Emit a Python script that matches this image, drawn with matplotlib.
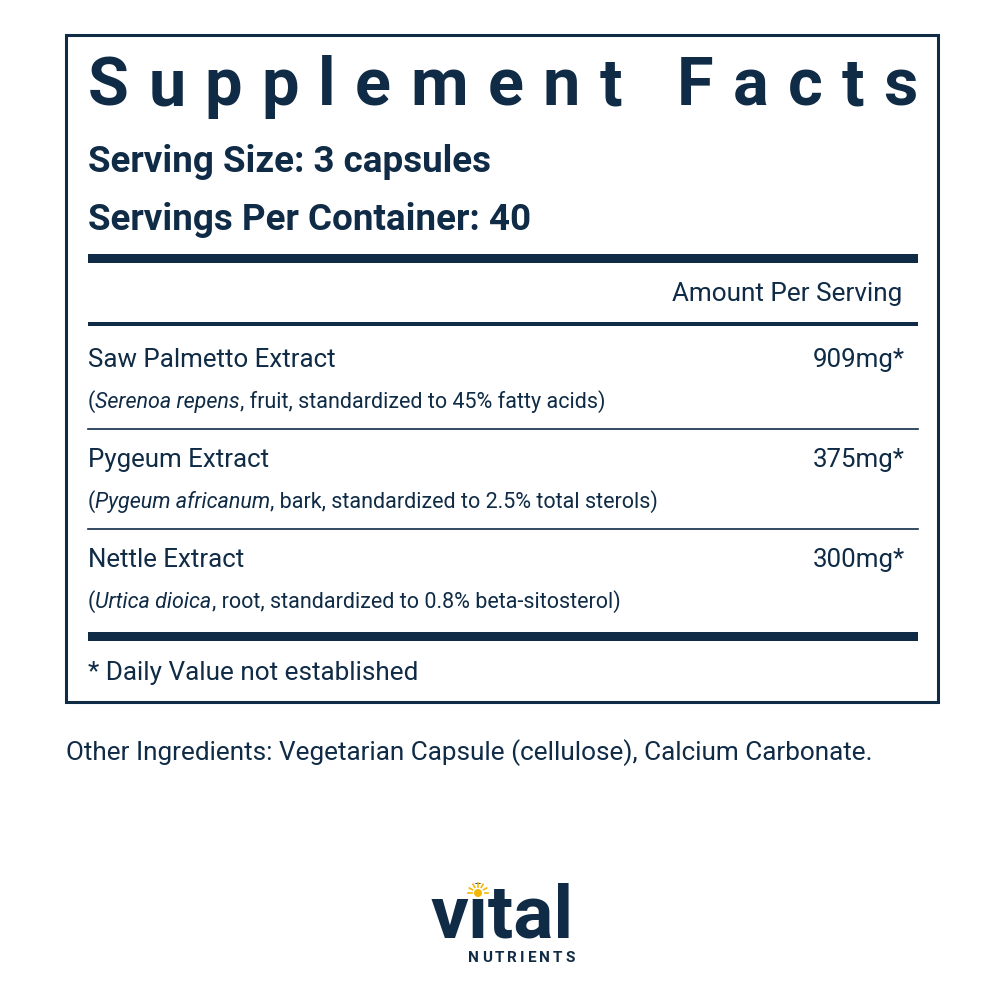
import matplotlib
matplotlib.use("Agg")
import math
import matplotlib.pyplot as plt
from matplotlib.patches import Rectangle, Circle

NAVY = "#0f2b46"
GOLD = "#f2b705"
FONT = "Roboto"

title = "Supplement Facts"
serving_size = "Serving Size: 3 capsules"
servings_per = "Servings Per Container: 40"
amount_header = "Amount Per Serving"
names = ["Saw Palmetto Extract", "Pygeum Extract", "Nettle Extract"]
amounts = ["909mg*", "375mg*", "300mg*"]
latin = ["Serenoa repens", "Pygeum africanum", "Urtica dioica"]
details = [", fruit, standardized to 45% fatty acids)",
           ", bark, standardized to 2.5% total sterols)",
           ", root, standardized to 0.8% beta-sitosterol)"]
footnote = "* Daily Value not established"
other = "Other Ingredients: Vegetarian Capsule (cellulose), Calcium Carbonate."

fig = plt.figure(figsize=(10, 10), dpi=100)
ax = fig.add_axes([0, 0, 1, 1])
ax.set_xlim(0, 1000)
ax.set_ylim(1000, 0)
ax.axis("off")
fig.canvas.draw()
renderer = fig.canvas.get_renderer()


def width_px(t):
    return t.get_window_extent(renderer).width


def runs(x, y, parts, size):
    for txt, style in parts:
        t = ax.text(x, y, txt, fontsize=size, style=style, color=NAVY,
                    family=FONT, va="baseline")
        x += width_px(t)


# box
ax.add_patch(Rectangle((66, 35), 872, 667, fill=False, lw=2.2, ec=NAVY))

# spaced title
chars = []
for c in title:
    t = ax.text(0, 105, c, fontsize=48, weight="bold", color=NAVY,
                family=FONT, va="baseline")
    chars.append((t, width_px(t)))
total = sum(w for _, w in chars)
gap = (918 - 88 - total) / (len(chars) - 1)
x = 88
for t, w in chars:
    t.set_x(x)
    x += w + gap

ax.text(88, 172, serving_size, fontsize=26.5, weight="bold", color=NAVY, family=FONT, va="baseline")
ax.text(88, 230, servings_per, fontsize=26.5, weight="bold", color=NAVY, family=FONT, va="baseline")

ax.add_patch(Rectangle((88, 254), 830, 9, color=NAVY, lw=0))
ax.text(902, 301, amount_header, fontsize=18.8, color=NAVY, family=FONT, ha="right", va="baseline")
ax.add_patch(Rectangle((88, 322), 830, 4, color=NAVY, lw=0))

y0 = 367
for i in range(3):
    y = y0 + i * 100
    ax.text(88, y, names[i], fontsize=18.6, color=NAVY, family=FONT, va="baseline")
    ax.text(905, y, amounts[i], fontsize=18.6, color=NAVY, family=FONT, ha="right", va="baseline")
    runs(88, y + 41, [("(", "normal"), (latin[i], "italic"), (details[i], "normal")], 15.5)
    if i < 2:
        ax.plot([88, 918], [y + 62, y + 62], color=NAVY, lw=1.2)

ax.add_patch(Rectangle((88, 632), 830, 9, color=NAVY, lw=0))
ax.text(88, 680, footnote, fontsize=18.8, color=NAVY, family=FONT, va="baseline")
ax.text(66, 760, other, fontsize=18.8, color=NAVY, family=FONT, va="baseline")

# logo
ax.text(502, 937, "vital", fontsize=54, weight="bold", color=NAVY, family=FONT,
        ha="center", va="baseline")
nchars = []
for c in "NUTRIENTS":
    t = ax.text(0, 962, c, fontsize=11, weight="bold", color=NAVY, family=FONT, va="baseline")
    nchars.append((t, width_px(t)))
tot = sum(w for _, w in nchars)
g = (575 - 468 - tot) / (len(nchars) - 1)
x = 468
for t, w in nchars:
    t.set_x(x)
    x += w + g
# sun over the i
ax.add_patch(Rectangle((466, 884), 24, 14, color="white", lw=0, zorder=3))
ax.add_patch(Circle((478, 893), 4, color=GOLD, lw=0, zorder=4))
for k in range(7):
    a = math.pi * (k / 6.0)
    ax.plot([478 + 6.5 * math.cos(a), 478 + 10 * math.cos(a)],
            [893 - 6.5 * math.sin(a), 893 - 10 * math.sin(a)], color=GOLD, lw=1.2, zorder=4)

fig.savefig("out.png", dpi=100)
